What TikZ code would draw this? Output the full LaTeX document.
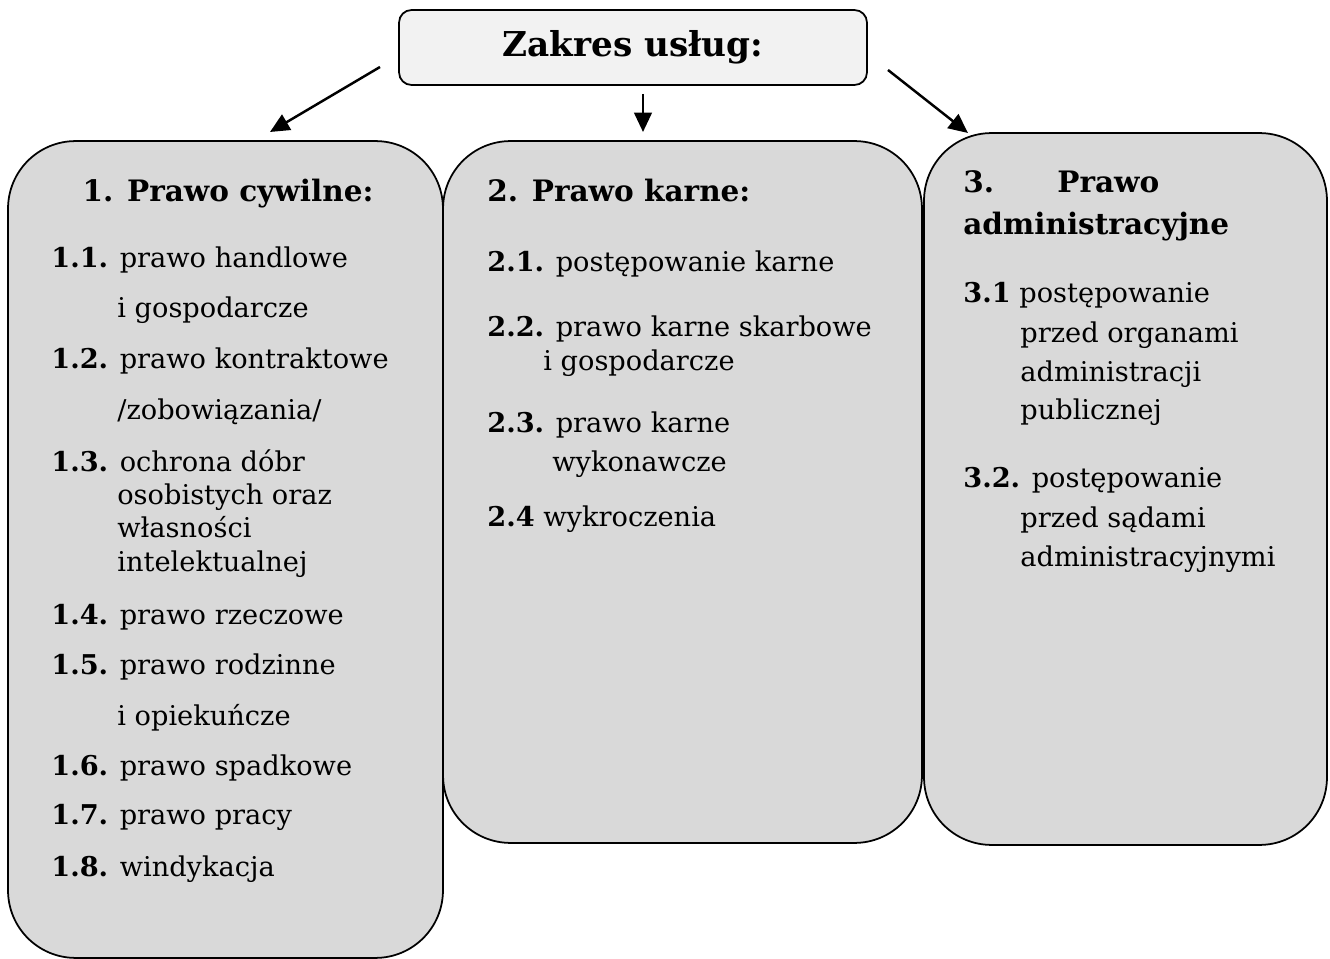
\documentclass[tikz,border=0pt]{standalone}
\usepackage{fontspec}
\setmainfont{DejaVu Serif}
\usepackage{tikz}
\usetikzlibrary{arrows.meta,positioning}
\usepackage{xcolor}
\definecolor{boxgray}{RGB}{217,217,217}
\definecolor{topgray}{RGB}{242,242,242}
\tikzstyle{box} = [draw, line width=1pt, fill=boxgray, rounded corners=1.35cm, inner sep=0pt]
\tikzstyle{arrow} = [line width=1.4pt,-{Triangle[length=11pt,width=10pt]}]
\tikzstyle{item} = [anchor=base west, inner sep=0pt, font=\fontsize{15.5}{19}\selectfont]
\tikzstyle{head} = [anchor=base west, inner sep=0pt, font=\fontsize{16.8}{20}\selectfont\bfseries]

\begin{document}
\begin{tikzpicture}[x=0.02cm,y=-0.02cm]
\useasboundingbox (0,0) rectangle (1330,959);

% Top box
\node[draw, line width=1pt, fill=topgray, rounded corners=0.25cm,
      minimum width=9.36cm, minimum height=1.5cm, inner sep=0pt,
      font=\fontsize{19.5}{23}\selectfont\bfseries] (zakres) at (633,47.5) {Zakres usług:};

% Three columns
\node[box, minimum width=8.7cm, minimum height=16.34cm] (cywilne) at (225.5,549.5) {};
\node[box, minimum width=9.58cm, minimum height=14.04cm] (karne) at (682.5,492) {};
\node[box, minimum width=8.06cm, minimum height=14.24cm] (admin) at (1125.5,489) {};

% Arrows
\coordinate (a1s) at (380,67);
\coordinate (a1e) at (270,132);
\coordinate (a2s) at (643,94);
\coordinate (a2e) at (643,132);
\coordinate (a3s) at (888,70);
\coordinate (a3e) at (968,133);
\draw[arrow] (a1s) -- (a1e);
\draw[arrow] (a2s) -- (a2e);
\draw[arrow] (a3s) -- (a3e);

% 1. Prawo cywilne
\node[head, anchor=base] (h1) at (228,202) {1. Prawo cywilne:};
\node[item] (c11) at (51,268) {\textbf{1.1.} prawo handlowe};
\node[item] (c11b) at (117,318) {i gospodarcze};
\node[item] (c12) at (51,369) {\textbf{1.2.} prawo kontraktowe};
\node[item] (c12b) at (117,420) {/zobowiązania/};
\node[item] (c13) at (51,472) {\textbf{1.3.} ochrona dóbr};
\node[item] (c13b) at (117,505) {osobistych oraz};
\node[item] (c13c) at (117,538) {własności};
\node[item] (c13d) at (117,572) {intelektualnej};
\node[item] (c14) at (51,625) {\textbf{1.4.} prawo rzeczowe};
\node[item] (c15) at (51,675) {\textbf{1.5.} prawo rodzinne};
\node[item] (c15b) at (117,725) {i opiekuńcze};
\node[item] (c16) at (51,775) {\textbf{1.6.} prawo spadkowe};
\node[item] (c17) at (51,825) {\textbf{1.7.} prawo pracy};
\node[item] (c18) at (51,876) {\textbf{1.8.} windykacja};

% 2. Prawo karne
\node[head] (h2) at (487,202) {2. Prawo karne:};
\node[item] (k21) at (487,272) {\textbf{2.1.} postępowanie karne};
\node[item] (k22) at (487,337) {\textbf{2.2.} prawo karne skarbowe};
\node[item] (k22b) at (543,371) {i gospodarcze};
\node[item] (k23) at (487,433) {\textbf{2.3.} prawo karne};
\node[item] (k23b) at (552,472) {wykonawcze};
\node[item] (k24) at (487,527) {\textbf{2.4} wykroczenia};

% 3. Prawo administracyjne
\node[head] (h3) at (963,193) {3.};
\node[head] (h3b) at (1057,193) {Prawo};
\node[head] (h3c) at (963,235) {administracyjne};
\node[item] (a31) at (963,303) {\textbf{3.1} postępowanie};
\node[item] (a31b) at (1020,343) {przed organami};
\node[item] (a31c) at (1020,382) {administracji};
\node[item] (a31d) at (1020,420) {publicznej};
\node[item] (a32) at (963,488) {\textbf{3.2.} postępowanie};
\node[item] (a32b) at (1020,528) {przed sądami};
\node[item] (a32c) at (1020,567) {administracyjnymi};
\end{tikzpicture}
\end{document}
